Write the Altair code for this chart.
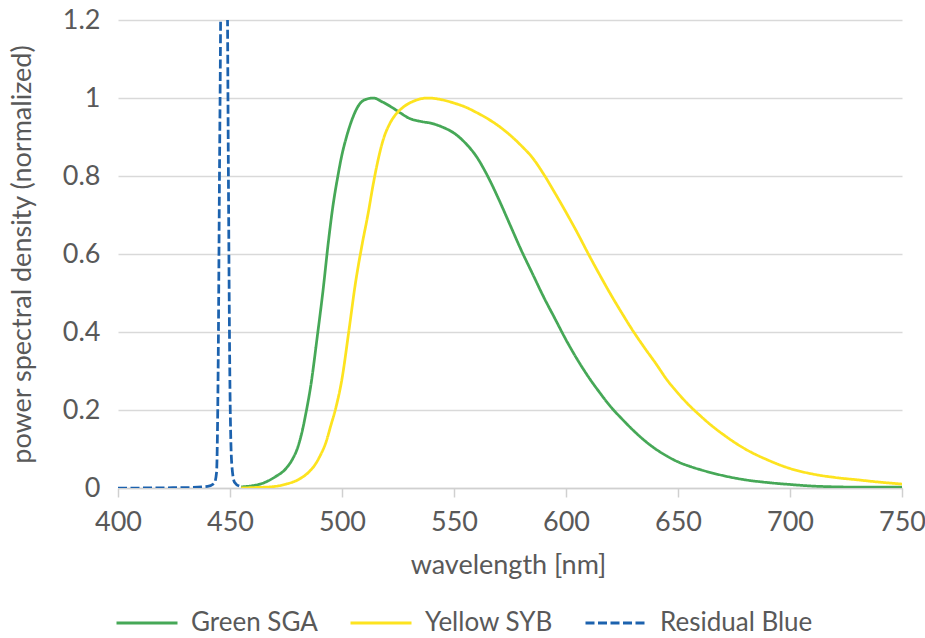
import altair as alt
import pandas as pd

# Emission spectra, wavelength in nm and normalized power spectral density
green_wl = [455, 460, 465, 470, 475, 478, 480, 482, 484, 486, 489, 491.5, 494, 496, 498, 500,
            502, 504.5, 507, 510, 514, 518, 522, 526, 530, 535, 540, 545, 550, 555, 560,
            565, 570, 575, 580, 585, 590, 595, 600, 605, 610, 615, 620, 625, 630, 635,
            640, 645, 650, 655, 660, 670, 680, 690, 700, 710, 720, 735, 750]
green_psd = [0.003, 0.006, 0.013, 0.028, 0.05, 0.075, 0.1, 0.14, 0.195, 0.26, 0.39, 0.505, 0.635, 0.725, 0.795, 0.855,
             0.9, 0.945, 0.977, 0.995, 1.0, 0.99, 0.977, 0.962, 0.948, 0.94, 0.935, 0.925, 0.91, 0.885, 0.85,
             0.8, 0.74, 0.675, 0.61, 0.55, 0.49, 0.435, 0.38, 0.33, 0.285, 0.245, 0.208, 0.177, 0.148, 0.122,
             0.1, 0.082, 0.067, 0.056, 0.047, 0.032, 0.021, 0.014, 0.009, 0.005, 0.003, 0.002, 0.002]

yellow_wl = [455, 460, 465, 470, 475, 480, 485, 488, 490, 493, 495, 497, 500, 503, 506,
             509, 511.7, 513.5, 515.5, 518.4, 521.4, 524, 527, 532, 538.5, 545, 550, 555, 560, 565, 570,
             575, 580, 585, 590, 595, 600, 605, 610, 615, 620, 625, 630, 635, 640, 645,
             650, 655, 660, 665, 670, 680, 690, 700, 710, 720, 730, 740, 750]
yellow_psd = [0.0, 0.001, 0.002, 0.004, 0.01, 0.02, 0.04, 0.06, 0.08, 0.12, 0.16, 0.2, 0.28, 0.4, 0.525,
              0.625, 0.705, 0.765, 0.825, 0.893, 0.935, 0.958, 0.975, 0.992, 1.0, 0.995, 0.987, 0.977, 0.963, 0.947, 0.928,
              0.905, 0.878, 0.847, 0.805, 0.757, 0.707, 0.655, 0.6, 0.547, 0.496, 0.448, 0.402, 0.36, 0.32, 0.278,
              0.243, 0.212, 0.185, 0.16, 0.138, 0.1, 0.072, 0.05, 0.036, 0.027, 0.021, 0.015, 0.01]

blue_wl = [400, 410, 420, 430, 440, 443, 444, 444.7, 445.3, 445.8, 446.5, 447.3, 448.2, 448.9,
           449.4, 450, 450.8, 452, 454.5]
blue_psd = [0.0, 0.0, 0.0005, 0.001, 0.004, 0.012, 0.04, 0.3, 0.8, 1.2, 2.2, 2.6, 2.0, 1.2,
            0.7, 0.25, 0.06, 0.015, 0.004]

series_names = ["Green SGA", "Yellow SYB", "Residual Blue"]
series_colors = ["#46a857", "#fde31f", "#1c62ae"]
series_dashes = [[1, 0], [1, 0], [9, 3.5]]

frames = []
for name, wl, psd in zip(series_names,
                         [green_wl, yellow_wl, blue_wl],
                         [green_psd, yellow_psd, blue_psd]):
    frames.append(pd.DataFrame({"wavelength": wl, "psd": psd, "series": name}))
data = pd.concat(frames, ignore_index=True)

FONT = "Lato"
TEXT = "#595959"

legend_style = dict(
    title=None,
    orient="none",
    direction="horizontal",
    legendX=-3,
    legendY=571,
    symbolType="stroke",
    symbolSize=3721,
    symbolStrokeWidth=3,
    labelOffset=12,
    columnPadding=26,
)

chart = (
    alt.Chart(data)
    .mark_line(strokeWidth=2.75, interpolate="monotone", clip=True)
    .encode(
        x=alt.X(
            "wavelength:Q",
            scale=alt.Scale(domain=[400, 750], nice=False, zero=False),
            axis=alt.Axis(
                values=[400, 450, 500, 550, 600, 650, 700, 750],
                title="wavelength [nm]",
                grid=False,
                labelFlush=False,
                domainColor="#d0d0d0",
                domainWidth=1.5,
                tickColor="#d0d0d0",
                tickWidth=1.5,
                tickSize=9,
                labelPadding=12,
                titleX=390,
                titleY=77,
                titleBaseline="middle",
            ),
        ),
        y=alt.Y(
            "psd:Q",
            scale=alt.Scale(domain=[0, 1.2], nice=False),
            axis=alt.Axis(
                values=[0, 0.2, 0.4, 0.6, 0.8, 1.0, 1.2],
                format="~g",
                title="power spectral density (normalized)",
                domain=False,
                ticks=False,
                labelPadding=18,
                gridColor="#d9d9d9",
                gridWidth=1.5,
                titleX=-96,
                titleY=234,
                titleAngle=270,
                titleAlign="center",
                titleBaseline="middle",
            ),
        ),
        color=alt.Color(
            "series:N",
            scale=alt.Scale(domain=series_names, range=series_colors),
            sort=series_names,
            legend=alt.Legend(**legend_style),
        ),
        strokeDash=alt.StrokeDash(
            "series:N",
            scale=alt.Scale(domain=series_names, range=series_dashes),
            sort=series_names,
            legend=alt.Legend(**legend_style),
        ),
        order=alt.Order("wavelength:Q"),
    )
    .properties(
        width=784,
        height=468,
        autosize=alt.AutoSizeParams(type="none"),
        padding={"left": 118, "top": 20, "right": 23, "bottom": 150},
    )
    .configure_view(stroke=None)
    .configure_axis(
        labelFont=FONT,
        titleFont=FONT,
        labelColor=TEXT,
        titleColor=TEXT,
        labelFontSize=27,
        titleFontSize=27,
        titleFontWeight="normal",
    )
    .configure_legend(
        labelFont=FONT,
        labelColor=TEXT,
        labelFontSize=26,
        labelLimit=300,
    )
)

chart.save("out.html", embed_options={"renderer": "svg", "actions": False})
